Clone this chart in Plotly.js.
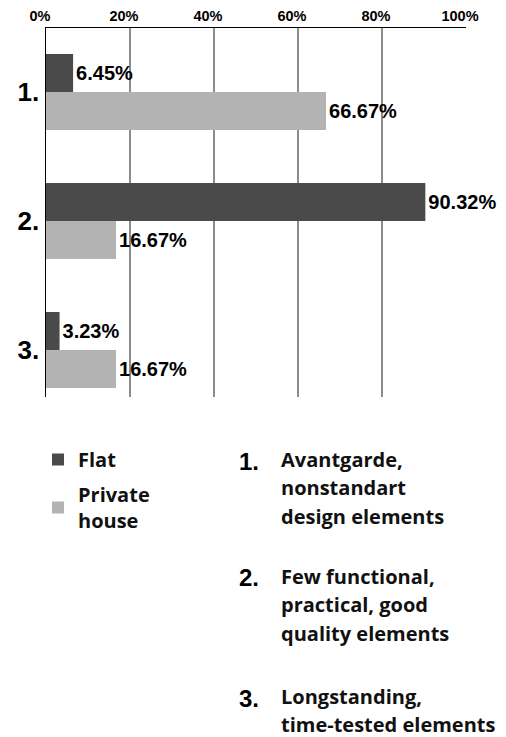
<!DOCTYPE html>
<html><head><meta charset="utf-8">
<script src="https://cdn.plot.ly/plotly-3.0.1.min.js"></script>
<style>html,body{margin:0;padding:0;background:#fff}#c{width:506px;height:737px}</style>
</head><body><div id="c"></div>
<script>
var categories = ["1.", "2.", "3."];
var seriesNames = ["Flat", "Private<br>house"];
var flatValues = [6.45, 90.32, 3.23];
var privateValues = [66.67, 16.67, 16.67];
var xTickVals = [0, 20, 40, 60, 80, 100];
var descNumbers = ["1.", "2.", "3."];
var descriptions = [
  "Avantgarde,<br>nonstandart<br>design elements",
  "Few functional,<br>practical, good<br>quality elements",
  "Longstanding,<br>time-tested elements"
];

var W = 506, H = 737, L = 46, R = 40, T = 28, B = 340;
var pw = W - L - R, ph = H - T - B;
function py(p) { return (H - B - p) / ph; }
function px(p) { return (p - L) / pw; }

var boldArial = {family: "Liberation Sans, Arial, sans-serif", weight: "bold", color: "#000"};
var textFont = {family: "Open Sans, sans-serif", weight: "bold", color: "#111", size: 20};

function fmt(v) { return v.toFixed(2) + "%"; }

var traces = [
  {type: "bar", orientation: "h", name: seriesNames[0], legendgroup: "a", y: [0,1,2], x: flatValues,
   marker: {color: "#4a4a4a"}, text: flatValues.map(fmt), textposition: "outside",
   constraintext: "none", cliponaxis: false, textfont: Object.assign({size: 20}, boldArial),
   hoverinfo: "none"},
  {type: "bar", orientation: "h", name: seriesNames[1], legendgroup: "b", y: [0,1,2], x: privateValues,
   marker: {color: "#b3b3b3"}, text: privateValues.map(fmt), textposition: "outside",
   constraintext: "none", cliponaxis: false, textfont: Object.assign({size: 20}, boldArial),
   hoverinfo: "none"}
];

var annotations = [];
var groupTops = [459, 576, 696];
var lineGap = 28.5;
var numberY = [461, 577, 698];
descriptions.forEach(function (d, i) {
  annotations.push({xref: "paper", yref: "paper", x: px(261), y: py(numberY[i]),
    xanchor: "right", yanchor: "middle", showarrow: false, text: descNumbers[i],
    font: Object.assign({size: 24}, boldArial)});
  d.split("<br>").forEach(function (line, j) {
    annotations.push({xref: "paper", yref: "paper", x: px(279), y: py(groupTops[i] + j * lineGap),
      xanchor: "left", yanchor: "middle", showarrow: false, text: line, font: textFont});
  });
});

var layout = {
  width: W, height: H,
  margin: {l: L, r: R, t: T, b: B, pad: 0},
  paper_bgcolor: "#fff", plot_bgcolor: "#fff",
  barmode: "group", bargap: 0.41, bargroupgap: 0,
  showlegend: true,
  legend: {x: px(38), y: py(440), xanchor: "left", yanchor: "top", orientation: "v",
    font: {family: "Open Sans, sans-serif", weight: "bold", size: 20, color: "#111"},
    itemsizing: "constant", tracegroupgap: 6, bgcolor: "rgba(0,0,0,0)"},
  xaxis: {side: "top", range: [0, 100], tickvals: xTickVals, ticktext: xTickVals.map(function(v){return v + "%";}),
    showgrid: true, gridcolor: "#8c8c8c", gridwidth: 1.5, zeroline: false,
    showline: true, linecolor: "#000", linewidth: 1.5, ticks: "", fixedrange: true,
    ticklabelshift: -6, tickfont: Object.assign({size: 14.5}, boldArial)},
  yaxis: {range: [2.364, -0.496], tickvals: [0,1,2], ticktext: categories,
    showgrid: false, zeroline: false, showline: true, linecolor: "#000", linewidth: 1.5,
    ticks: "", ticklabelstandoff: 0, tickfont: Object.assign({size: 26}, boldArial)},
  annotations: annotations
};

Plotly.newPlot("c", traces, layout, {displayModeBar: false, staticPlot: true});
</script></body></html>
